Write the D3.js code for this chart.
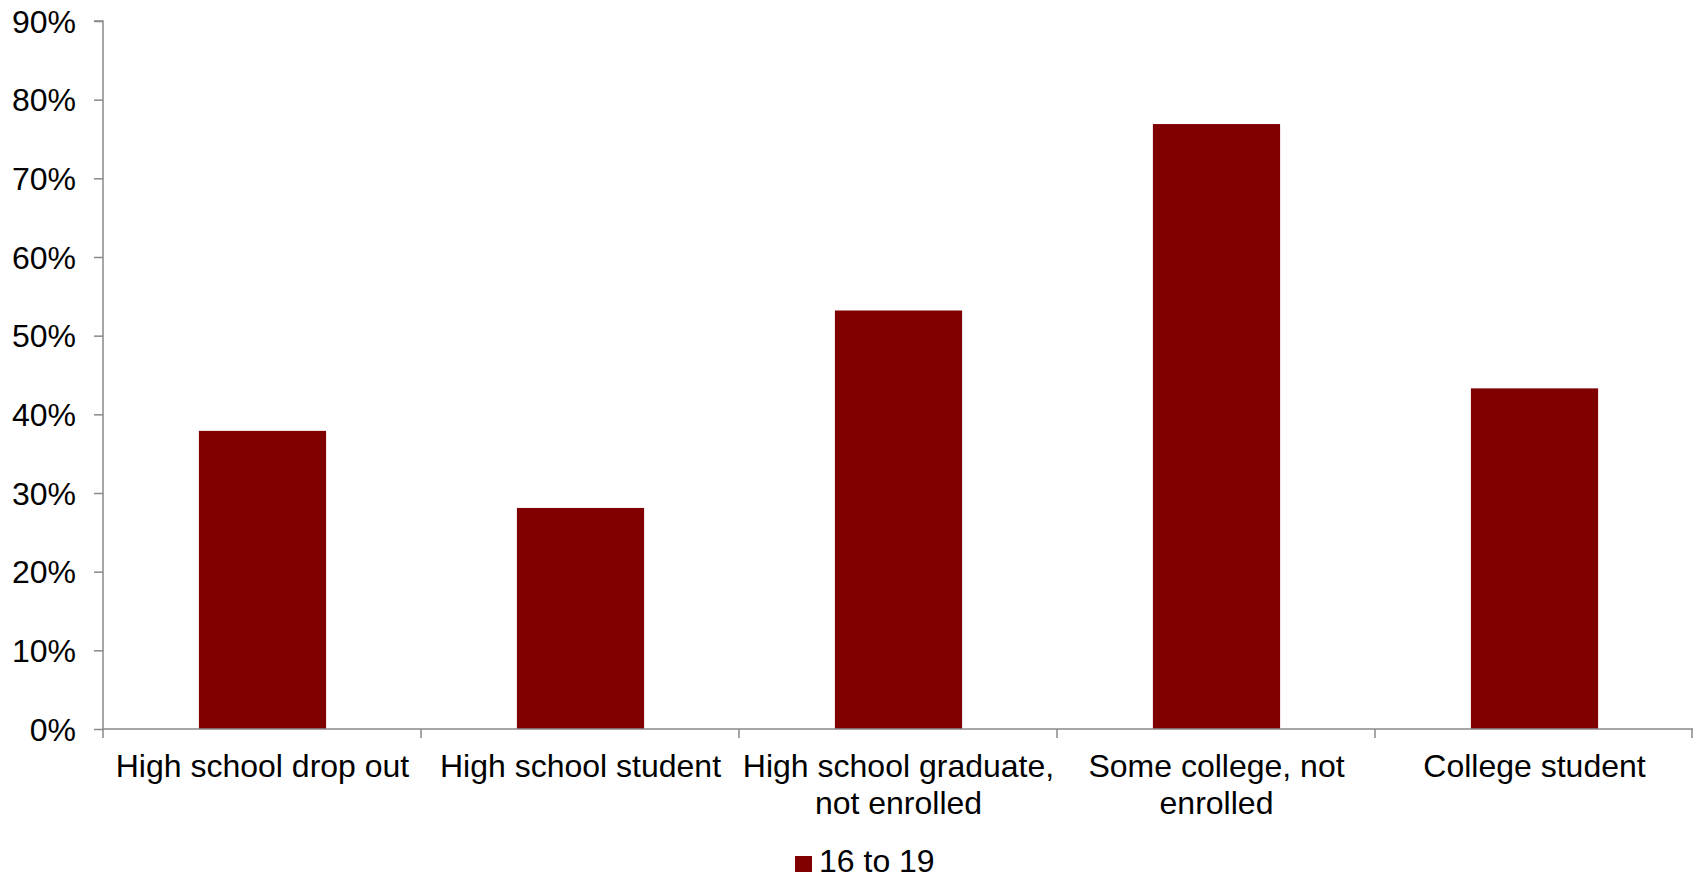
<!DOCTYPE html>
<html>
<head>
<meta charset="utf-8">
<script src="https://cdn.jsdelivr.net/npm/d3@7"></script>
<style>
  html, body { margin: 0; padding: 0; background: #fff; }
  svg { display: block; }
  text { font-family: Arial, "Liberation Sans", sans-serif; fill: #000; }
</style>
</head>
<body>
<svg id="chart" width="1693" height="878"></svg>
<script>
const categories = [
  ["High school drop out"],
  ["High school student"],
  ["High school graduate,", "not enrolled"],
  ["Some college, not", "enrolled"],
  ["College student"]
];
const seriesName = "16 to 19";
const values = [0.379, 0.281, 0.532, 0.769, 0.433];
const yTicks = [0, 0.1, 0.2, 0.3, 0.4, 0.5, 0.6, 0.7, 0.8, 0.9];

(function () {
const svg = d3.select("#chart");
const mLeft = 103, mRight = 1693, mTop = 21, mBottom = 729;
const axisColor = "#898989";
const barColor = "#800000";
const fontSize = 32;

const keys = categories.map((c, i) => i);
const x = d3.scaleBand().domain(keys).range([mLeft, mRight]).padding(0);
const y = d3.scaleLinear().domain([0, 0.9]).range([mBottom, mTop]);

// bars
const bw = x.bandwidth() * 0.4;
svg.append("g").selectAll("rect").data(values).join("rect")
  .attr("x", (d, i) => x(i) + (x.bandwidth() - bw) / 2 + 0.5)
  .attr("y", d => y(d))
  .attr("width", bw)
  .attr("height", d => y(0) - y(d))
  .attr("fill", barColor);

// y axis
const yAxis = d3.axisLeft(y).tickValues(yTicks).tickSize(9).tickPadding(18)
  .tickFormat(d3.format(".0%"));
const gy = svg.append("g").attr("transform", `translate(${mLeft},0)`).call(yAxis);
gy.select(".domain").attr("stroke", axisColor).attr("stroke-width", 1.5)
  .attr("d", `M-9,${mTop}H0V${mBottom}`);
gy.selectAll(".tick line").attr("stroke", axisColor).attr("stroke-width", 1.5);
gy.selectAll(".tick text").attr("font-size", fontSize)
  .attr("font-family", "Arial, 'Liberation Sans', sans-serif").attr("fill", "#000")
  .attr("dy", "0.35em");

// x axis line and ticks at category boundaries
const boundaries = keys.map(k => x(k)).concat([mRight - 1]);
svg.append("line").attr("x1", mLeft).attr("x2", mRight).attr("y1", mBottom).attr("y2", mBottom)
  .attr("stroke", axisColor).attr("stroke-width", 1.5);
svg.append("g").selectAll("line").data(boundaries).join("line")
  .attr("x1", d => d).attr("x2", d => d)
  .attr("y1", mBottom).attr("y2", mBottom + 9)
  .attr("stroke", axisColor).attr("stroke-width", 1.5);

// category labels
const lab = svg.append("g").selectAll("text").data(categories).join("text")
  .attr("text-anchor", "middle")
  .attr("font-size", fontSize)
  .attr("x", (d, i) => x(i) + x.bandwidth() / 2 + 0.5)
  .attr("y", 777);
lab.selectAll("tspan").data(d => d).join("tspan")
  .attr("x", function() { return d3.select(this.parentNode).attr("x"); })
  .attr("dy", (d, i) => i === 0 ? 0 : 36.6)
  .text(d => d);

// legend
const lg = svg.append("g");
lg.append("rect").attr("x", 795).attr("y", 856).attr("width", 17).attr("height", 16)
  .attr("fill", barColor);
lg.append("text").attr("x", 819).attr("y", 872).attr("font-size", fontSize).text(seriesName);
})();
</script>
</body>
</html>
